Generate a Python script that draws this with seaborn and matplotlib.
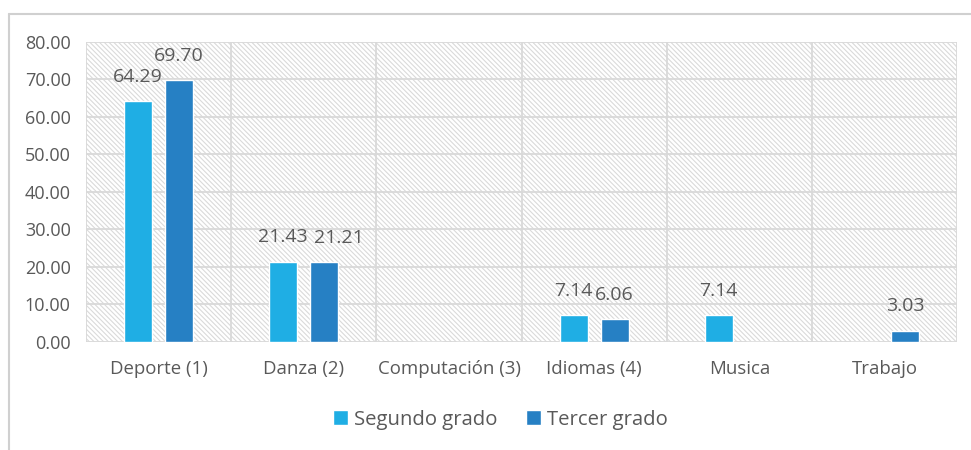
import pandas as pd
import numpy as np
import matplotlib.pyplot as plt
import matplotlib.patches as mpatches
from matplotlib.lines import Line2D
import seaborn as sns

# ── Data ──────────────────────────────────────────────────────────────────────
categories = ["Deporte (1)", "Danza (2)", "Computación (3)", "Idiomas (4)", "Musica", "Trabajo"]
segundo = [64.29, 21.43, 0.0, 7.14, 7.14, 0.0]
tercer = [69.70, 21.21, 0.0, 6.06, 0.0, 3.03]
series_names = ["Segundo grado", "Tercer grado"]
yticks = [0, 10, 20, 30, 40, 50, 60, 70, 80]

COLORS = ["#1FAEE4", "#2680C4"]
TEXT = "#595959"
GRID = "#D9D9D9"

sns.set_style("white")
plt.rcParams["font.family"] = ["Open Sans", "DejaVu Sans"]
plt.rcParams["hatch.color"] = "#DADADA"
plt.rcParams["hatch.linewidth"] = 0.8

df = pd.DataFrame({
    "cat": categories * 2,
    "val": segundo + tercer,
    "serie": [series_names[0]] * len(categories) + [series_names[1]] * len(categories),
})

fig = plt.figure(figsize=(9.71, 4.5), dpi=100)
ax = fig.add_axes([0.0886, 0.24, 0.8970, 0.667])

# hatched plot background
bg = mpatches.Rectangle((0, 0), 1, 1, transform=ax.transAxes, facecolor="white",
                        edgecolor="#DADADA", hatch="\\" * 7, linewidth=0, zorder=0)
ax.add_patch(bg)

sns.barplot(data=df, x="cat", y="val", hue="serie", palette=COLORS,
            width=0.566, gap=0.32, ax=ax, zorder=3, saturation=1)

label_sets = []
for cont in ax.containers:
    labels = [f"{b.get_height():.2f}" if b.get_height() > 0 else "" for b in cont]
    label_sets.append(ax.bar_label(cont, labels=labels, padding=11, fontsize=14, color=TEXT))

# nudge a second-series label right when it would collide with its neighbour
fig.canvas.draw()
rend = fig.canvas.get_renderer()
for t1, t2 in zip(label_sets[0], label_sets[1]):
    if not t1.get_text() or not t2.get_text():
        continue
    b1 = t1.get_window_extent(rend)
    b2 = t2.get_window_extent(rend)
    if b1.overlaps(b2):
        shift = (b1.x1 - b2.x0) + 6
        x, y = t2.xyann
        t2.xyann = (x + shift * 72 / fig.dpi, y)

ax.set_xlim(-0.5, len(categories) - 0.5)
ax.set_ylim(0, 80)
ax.set_yticks(yticks)
ax.set_yticklabels([f"{v:.2f}" for v in yticks])
ax.set_xlabel("")
ax.set_ylabel("")

# grid: horizontal at ticks, vertical at category boundaries
for v in yticks:
    ax.axhline(v, color=GRID, lw=1.3, zorder=1)
for b in np.arange(-0.5, len(categories), 1.0):
    ax.axvline(b, color=GRID, lw=1.3, zorder=1)

for s in ax.spines.values():
    s.set_visible(False)

ax.tick_params(axis="both", length=0, colors=TEXT)
ax.tick_params(axis="x", pad=13, labelsize=13.4)
ax.tick_params(axis="y", pad=11, labelsize=13)

ax.legend(loc="center", bbox_to_anchor=(0.515, 0.067), bbox_transform=fig.transFigure,
          ncol=2, frameon=False, fontsize=14.6, labelcolor=TEXT,
          handlelength=0.75, handleheight=0.75, handletextpad=0.3, columnspacing=1.4)

# outer chart frame
fig.add_artist(Line2D([0.0093, 0.0093], [0, 0.97], color="#D0D0D0", lw=1.5))
fig.add_artist(Line2D([0.0093, 1], [0.97, 0.97], color="#D0D0D0", lw=1.5))

fig.savefig("out.png", dpi=100, facecolor="white")
